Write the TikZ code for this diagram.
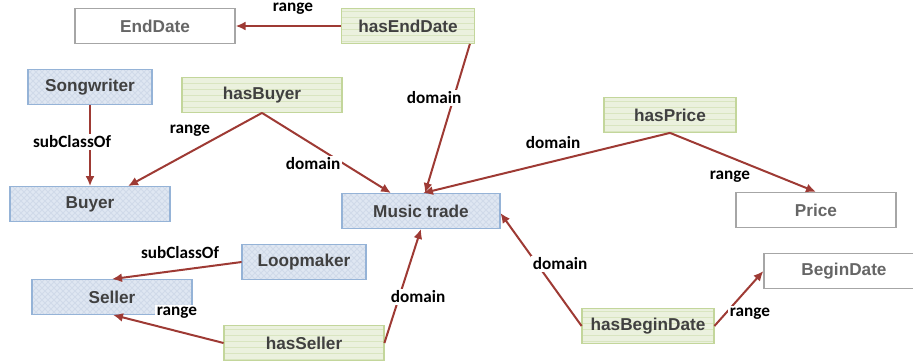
\documentclass[tikz,border=0pt]{standalone}
\usepackage{fontspec}
\setmainfont{Liberation Sans}
\newfontfamily\labelfont{Carlito}
\usetikzlibrary{arrows.meta,patterns}

\definecolor{linkred}{HTML}{9E3A34}
\definecolor{classfill}{HTML}{DFE7F2}
\definecolor{classline}{HTML}{95B3D7}
\definecolor{classhatch}{HTML}{D0DAE9}
\definecolor{propfill}{HTML}{EBF1DE}
\definecolor{propline}{HTML}{C3D69B}
\definecolor{prophatch}{HTML}{D9E5C0}
\definecolor{datagray}{HTML}{A6A6A6}
\definecolor{boxtext}{HTML}{404040}

\begin{document}
\begin{tikzpicture}[
        x=0.5pt, y=-0.5pt,
        >={Latex[length=5pt,width=4.5pt]},
        font=\fontsize{8.6}{10}\selectfont\bfseries,
        classbox/.style={fill=classfill, text=boxtext, minimum height=17.5pt,
            postaction={pattern=north east lines, pattern color=classhatch},
            postaction={pattern=north west lines, pattern color=classhatch},
            postaction={draw=classline, line width=0.6pt}},
        propbox/.style={fill=propfill, text=boxtext, minimum height=17.5pt,
            postaction={pattern=horizontal lines, pattern color=prophatch},
            postaction={draw=propline, line width=0.6pt}},
        databox/.style={draw=datagray, fill=white, text=black!60, line width=0.6pt,
            minimum width=80pt, minimum height=17.5pt},
        link/.style={->, draw=linkred, line width=1pt},
        lbl/.style={font=\labelfont\fontsize{8.6}{10}\selectfont\bfseries, fill=white, inner sep=1pt}
    ]

    \useasboundingbox (0,0) rectangle (913,360);

    % --- classes ---
    \node[classbox, minimum width=62pt] (songwriter) at (90,87) {Songwriter};
    \node[classbox, minimum width=80pt] (buyer) at (90,204) {Buyer};
    \node[classbox, minimum width=79pt] (trade) at (421,211) {Music trade};
    \node[classbox, minimum width=62pt] (loopmaker) at (304,262) {Loopmaker};
    \node[classbox, minimum width=80pt] (seller) at (112,297) {Seller};

    % --- properties ---
    \node[propbox, minimum width=66.5pt] (hasEndDate) at (408,26) {hasEndDate};
    \node[propbox, minimum width=80pt] (hasBuyer) at (262,95) {hasBuyer};
    \node[propbox, minimum width=66pt] (hasPrice) at (670,115) {hasPrice};
    \node[propbox, minimum width=80pt] (hasSeller) at (304,343) {hasSeller};
    \node[propbox, minimum width=66pt] (hasBeginDate) at (648,326) {hasBeginDate};

    % --- datatypes ---
    \node[databox] (endDate) at (155,26) {EndDate};
    \node[databox] (price) at (816,210) {Price};
    \node[databox] (beginDate) at (844,271) {BeginDate};

    % Connectors
    \draw[link] (hasEndDate.west) -- (endDate.east);
    \draw[link] ([xshift=-2.5pt]hasEndDate.south east) -- ([xshift=2pt]trade.north);
    \draw[link] (songwriter.south) -- (buyer.north);
    \draw[link] (hasBuyer.south) -- ([xshift=19pt]buyer.north);
    \draw[link] (hasBuyer.south) -- ([xshift=-15pt]trade.north);
    \draw[link] (hasPrice.south) -- ([xshift=1pt]trade.north);
    \draw[link] (hasPrice.south) -- (price.north);
    \draw[link] (hasBeginDate.west) -- ([yshift=-1pt]trade.east);
    \draw[link] (hasBeginDate.east) -- (beginDate.west);
    \draw[link] (loopmaker.west) -- (seller.north);
    \draw[link] (hasSeller.west) -- ([xshift=0.5pt]seller.south);
    \draw[link] (hasSeller.east) -- (trade.south);

    % Labels
    \node[lbl] (lRangeEnd) at (293,9) {range};
    \node[lbl] (lDomainEnd) at (434,98) {domain};
    \node[lbl] (lSubSong) at (72,142) {subClassOf};
    \node[lbl] (lRangeBuyer) at (190,131) {range};
    \node[lbl] (lDomainBuyer) at (313,164) {domain};
    \node[lbl] (lDomainPrice) at (553,143) {domain};
    \node[lbl] (lRangePrice) at (730,177) {range};
    \node[lbl] (lDomainBegin) at (560,264) {domain};
    \node[lbl] (lRangeBegin) at (750,314) {range};
    \node[lbl] (lSubLoop) at (180,253) {subClassOf};
    \node[lbl] (lRangeSeller) at (177,313) {range};
    \node[lbl] (lDomainSeller) at (418,297) {domain};

\end{tikzpicture}
\end{document}
